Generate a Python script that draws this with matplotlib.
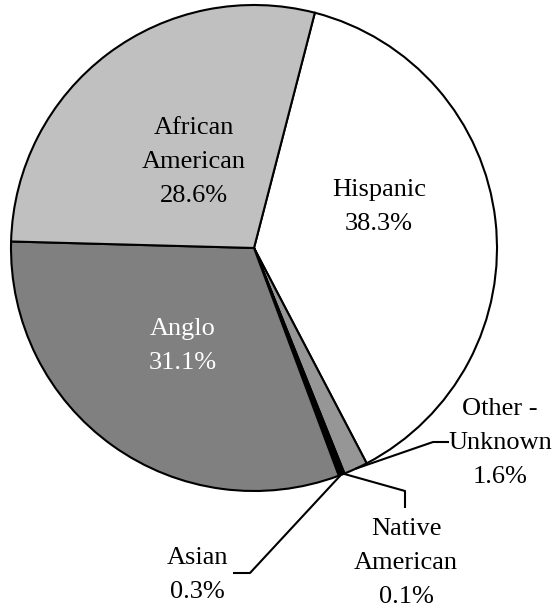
import numpy as np
import matplotlib
matplotlib.use('Agg')
import matplotlib.pyplot as plt

# данные диаграммы
groups = ['Hispanic', 'Other -\nUnknown', 'Native\nAmerican', 'Asian', 'Anglo', 'African\nAmerican']
shares = [38.3, 1.6, 0.1, 0.3, 31.1, 28.6]
colors = ['#FFFFFF', '#969696', '#000000', '#000000', '#808080', '#C0C0C0']

plt.rcParams['font.family'] = ['Liberation Serif', 'DejaVu Serif']

W, H = 560, 613
CX, CY, R = 254, 248, 243

def px(x, y):
    # пиксели -> координаты данных
    return (x - CX) / R, (CY - y) / R

fig = plt.figure(figsize=(W / 100, H / 100), dpi=100)
ax = fig.add_axes([0, 0, 1, 1])
wedges, _ = ax.pie(shares, colors=colors, startangle=75.5, counterclock=False,
                   wedgeprops=dict(edgecolor='black', linewidth=1.5))
ax.set_aspect('auto')
ax.set_xlim(-CX / R, (W - CX) / R)
ax.set_ylim((CY - H) / R, CY / R)
ax.axis('off')

fs = 19
ls = 1.72

# подписи внутри секторов
inside = {0: ((379, 207), 'black'), 5: ((194, 162), 'black'), 4: ((183, 346), 'white')}
for i, ((x, y), c) in inside.items():
    ax.text(*px(x, y), f'{groups[i]}\n{shares[i]}%', ha='center', va='center',
            fontsize=fs, color=c, linespacing=ls)

# подписи с выносками
outside = {1: ((500, 443), [(433, 442), (449, 442)]),
           2: ((406, 563), [(405, 491), (405, 508)]),
           3: ((197, 575), [(250, 573), (233, 573)])}
for i, ((x, y), path) in outside.items():
    w = wedges[i]
    mid = np.deg2rad((w.theta1 + w.theta2) / 2)
    xs = [np.cos(mid)] + [px(*p)[0] for p in path]
    ys = [np.sin(mid)] + [px(*p)[1] for p in path]
    ax.plot(xs, ys, color='black', linewidth=1.5, solid_capstyle='butt')
    ax.text(*px(x, y), f'{groups[i]}\n{shares[i]}%', ha='center', va='center',
            fontsize=fs, linespacing=ls)

fig.savefig('out.png', dpi=100)
